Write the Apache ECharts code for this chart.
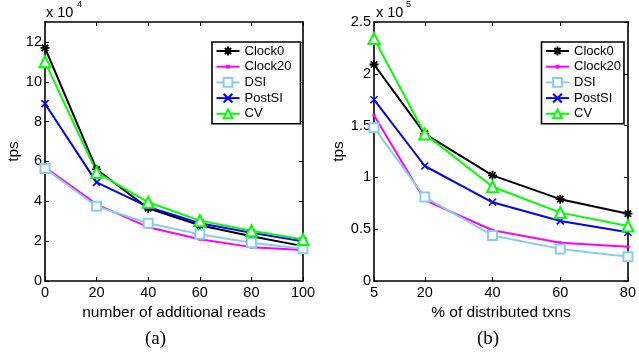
<!DOCTYPE html>
<html>
<head>
<meta charset="utf-8">
<script src="https://cdn.jsdelivr.net/npm/echarts@6/dist/echarts.min.js"></script>
<style>html,body{margin:0;padding:0;background:#fff}#c{width:639px;height:354px}</style>
</head>
<body>
<div id="c"></div>
<script>
// ---------- data ----------
const seriesNames = ['Clock0', 'Clock20', 'DSI', 'PostSI', 'CV'];

// (a) number of additional reads vs tps (x 10^4)
const readsX = [0, 20, 40, 60, 80, 100];
const aClock0  = [11.7, 5.6, 3.65, 2.8, 2.25, 1.75];
const aClock20 = [5.7, 3.85, 2.7, 2.1, 1.7, 1.55];
const aDSI     = [5.65, 3.75, 2.9, 2.35, 1.92, 1.62];
const aPostSI  = [8.9, 4.95, 3.72, 2.9, 2.42, 2.0];
const aCV      = [11.0, 5.45, 3.95, 3.03, 2.52, 2.08];
const aScale = 1e4;

// (b) % of distributed txns vs tps (x 10^5)
const distX = [5, 20, 40, 60, 80];
const bClock0  = [2.09, 1.42, 1.02, 0.79, 0.65];
const bClock20 = [1.6, 0.78, 0.49, 0.37, 0.33];
const bDSI     = [1.48, 0.81, 0.44, 0.31, 0.235];
const bPostSI  = [1.75, 1.11, 0.76, 0.58, 0.47];
const bCV      = [2.34, 1.42, 0.91, 0.66, 0.53];
const bScale = 1e5;

// tick labels
const aXTicks = [0, 20, 40, 60, 80, 100];
const aYTicks = [0, 2, 4, 6, 8, 10, 12];
const bXTicks = [5, 20, 40, 60, 80];
const bYTicks = [0, 0.5, 1, 1.5, 2, 2.5];

// ---------- styles ----------
const FONT = 'Liberation Sans, Arial, Helvetica, sans-serif';
const starPath = 'path://M5,0L5,10M0,5L10,5M1.5,1.5L8.5,8.5M1.5,8.5L8.5,1.5';
const xPath = 'path://M0,0L10,10M0,10L10,0';
// tiny dot inside a larger (invisible) bounding box
const dotPath = 'path://M0,0M10,10M4,4L6,4L6,6L4,6Z';
const styles = {
  Clock0:  {color: '#000000', symbol: starPath, size: 9, bw: 1.8},
  Clock20: {color: '#ff00ff', symbol: dotPath, size: 13, bw: 0.5},
  DSI:     {color: '#87ceeb', symbol: 'emptyRect', size: 9, bw: 1.5},
  PostSI:  {color: '#0000ff', symbol: xPath, size: 7, bw: 1.6},
  CV:      {color: '#00ff00', symbol: 'emptyTriangle', size: 11, bw: 1.5}
};

function mkSeries(name, xs, ys, scale, xi, yi) {
  const s = styles[name];
  return {
    name: name, type: 'line', xAxisIndex: xi, yAxisIndex: yi,
    data: xs.map((x, i) => [x, ys[i] * scale]),
    symbol: s.symbol, symbolSize: s.size, showSymbol: true,
    lineStyle: {color: s.color, width: 2},
    itemStyle: {color: s.color, borderColor: s.color, borderWidth: s.bw},
    animation: false, z: 3
  };
}

const axisLine = {show: true, onZero: false, lineStyle: {color: '#000', width: 1.6}};
const tickIn = (vals) => ({show: true, inside: true, length: 4, lineStyle: {color: '#000', width: 1}, customValues: vals});
const labelStyle = {color: '#000', fontSize: 14.5, fontFamily: FONT};

function xAxes(grid, min, max, ticks, name) {
  return [
    {type: 'value', gridIndex: grid, min: min, max: max, position: 'bottom',
     axisLine: axisLine, axisTick: tickIn(ticks), splitLine: {show: false},
     axisLabel: Object.assign({margin: 4, customValues: ticks}, labelStyle),
     name: name, nameLocation: 'middle', nameGap: 19,
     nameTextStyle: {color: '#000', fontSize: 15.5, fontFamily: FONT}},
    {type: 'value', gridIndex: grid, min: min, max: max, position: 'top',
     axisLine: axisLine, axisTick: tickIn(ticks), splitLine: {show: false},
     axisLabel: {show: false}}
  ];
}
function yAxes(grid, max, ticks, scale) {
  const vals = ticks.map(t => t * scale);
  return [
    {type: 'value', gridIndex: grid, min: 0, max: max, position: 'left',
     axisLine: axisLine, axisTick: tickIn(vals), splitLine: {show: false},
     axisLabel: Object.assign({margin: 3, customValues: vals,
       formatter: v => String(Math.round(v / scale * 100) / 100)}, labelStyle),
     name: 'tps', nameLocation: 'middle', nameGap: 22, nameRotate: 90,
     nameTextStyle: {color: '#000', fontSize: 15.5, fontFamily: FONT}},
    {type: 'value', gridIndex: grid, min: 0, max: max, position: 'right',
     axisLine: axisLine, axisTick: tickIn(vals), splitLine: {show: false},
     axisLabel: {show: false}}
  ];
}

function legend(left, padRight) {
  return {
    left: left, top: 42, orient: 'vertical',
    data: seriesNames,
    itemWidth: 23, itemHeight: 11, itemGap: 1.7,
    padding: [2, padRight, 3, 3.5],
    borderColor: '#000', borderWidth: 1.6, backgroundColor: '#fff',
    textStyle: {color: '#000', fontSize: 13, fontFamily: FONT, lineHeight: 14},
    selectedMode: false
  };
}

const series = [];
const aData = {Clock0: aClock0, Clock20: aClock20, DSI: aDSI, PostSI: aPostSI, CV: aCV};
const bData = {Clock0: bClock0, Clock20: bClock20, DSI: bDSI, PostSI: bPostSI, CV: bCV};
seriesNames.forEach(n => series.push(mkSeries(n, readsX, aData[n], aScale, 0, 0)));
seriesNames.forEach(n => series.push(mkSeries(n, distX, bData[n], bScale, 2, 2)));

const txt = (text, left, top, size, family) => ({
  type: 'text', left: left, top: top,
  style: {text: text, fill: '#000', fontSize: size, fontFamily: family || FONT}
});

const option = {
  backgroundColor: '#fff',
  animation: false,
  grid: [
    {left: 45, right: 336, top: 22, bottom: 73},
    {left: 374, right: 8, top: 22, bottom: 73}
  ],
  xAxis: [].concat(xAxes(0, 0, 100, aXTicks, 'number of additional reads'),
                   xAxes(1, 5, 80, bXTicks, '% of distributed txns')),
  yAxis: [].concat(yAxes(0, 13 * aScale, aYTicks, aScale),
                   yAxes(1, 2.5 * bScale, bYTicks, bScale)),
  legend: [legend(212, 9), legend(541.5, 3)],
  series: series,
  graphic: [
    txt('x 10', 46, 5, 14.5),
    txt('4', 77, 0, 9),
    txt('x 10', 376, 5, 14.5),
    txt('5', 406, 0, 9),
    txt('(a)', 145, 330, 19, 'Liberation Serif, Times New Roman, serif'),
    txt('(b)', 477, 330, 19, 'Liberation Serif, Times New Roman, serif')
  ]
};

const chart = echarts.init(document.getElementById('c'), null, {renderer: 'canvas'});
chart.setOption(option);
</script>
</body>
</html>
